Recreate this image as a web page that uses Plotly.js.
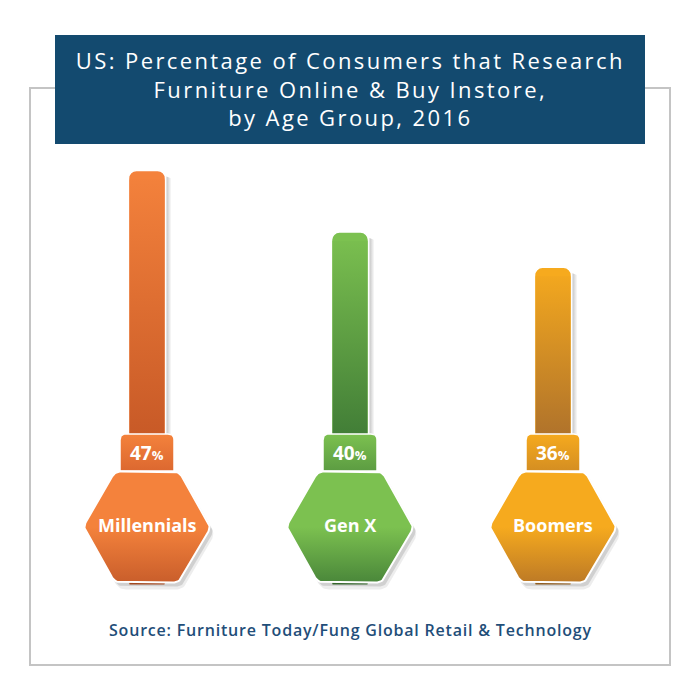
<!DOCTYPE html>
<html><head><meta charset="utf-8">
<script src="https://cdn.plot.ly/plotly-3.0.1.min.js"></script>
<style>html,body{margin:0;padding:0;background:#fff;}</style>
</head><body><div id="chart" style="width:700px;height:700px;"></div>
<script>
// ---- data ----
const categories = ['Millennials', 'Gen X', 'Boomers'];
const values = [47, 40, 36];
const valueLabels = ['47', '40', '36'];
const titleLines = ['US: Percentage of Consumers that Research', 'Furniture Online & Buy Instore,', 'by Age Group, 2016'];
const sourceText = 'Source: Furniture Today/Fung Global Retail & Technology';

// ---- styles ----
const topColors = ['#f4823c', '#7cc150', '#f6aa1e'];
const barBottom = ['#c85a27', '#427e37', '#b0732b'];
const hexBottom = ['#c95e2b', '#4a873a', '#bd7a26'];
const labelBottom = ['#dc6830', '#5c9c42', '#d48e22'];

// ---- geometry (axis mapping) ----
const W = 700, H = 700;
const X0 = 147, DX = 203;   // pixel of category 0, pixels per category
const Y0 = 584.5, DY = 8.81; // pixel of value 0, pixels per unit
const xr = [-X0 / DX, (W - X0) / DX];
const yr = [(Y0 - H) / DY, Y0 / DY];
const xd = px => (px - X0) / DX;
const yd = py => (Y0 - py) / DY;
const xp = x => X0 + x * DX;
const yp = y => Y0 - y * DY;

function roundPoly(pts, r) {
  const out = [];
  const n = pts.length;
  for (let k = 0; k < n; k++) {
    const P = pts[k], A = pts[(k - 1 + n) % n], B = pts[(k + 1) % n];
    const rr = Array.isArray(r) ? r[k] : r;
    if (rr <= 0) { out.push(P); continue; }
    const la = Math.hypot(A[0] - P[0], A[1] - P[1]);
    const lb = Math.hypot(B[0] - P[0], B[1] - P[1]);
    const p1 = [P[0] + (A[0] - P[0]) * rr / la, P[1] + (A[1] - P[1]) * rr / la];
    const p2 = [P[0] + (B[0] - P[0]) * rr / lb, P[1] + (B[1] - P[1]) * rr / lb];
    for (let t = 0; t <= 1.0001; t += 0.125) {
      const u = 1 - t;
      out.push([u * u * p1[0] + 2 * u * t * P[0] + t * t * p2[0], u * u * p1[1] + 2 * u * t * P[1] + t * t * p2[1]]);
    }
  }
  out.push(out[0]);
  return out;
}
function polyTrace(ptsPx, opts) {
  return Object.assign({
    type: 'scatter', mode: 'lines', fill: 'toself',
    x: ptsPx.map(p => xd(p[0])), y: ptsPx.map(p => yd(p[1])),
    hoverinfo: 'skip', showlegend: false
  }, opts);
}

const traces = [];
const annotations = [];
const barHalf = 18.5;
const labelTop = 434, labelBot = 471;
const hexR = 64, hexCy = 527, hexHalfH = 55.5;

categories.forEach((c, i) => {
  const cx = xp(i);
  const top = yp(values[i]);
  // bar shadow strip
  traces.push(polyTrace([[cx + barHalf + 1, top + 6], [cx + barHalf + 6, top + 8], [cx + barHalf + 6, labelTop], [cx + barHalf + 1, labelTop]], {
    line: {width: 0}, fillcolor: 'rgba(0,0,0,0.15)',
    fillgradient: {type: 'horizontal', colorscale: [[0, 'rgba(0,0,0,0.22)'], [1, 'rgba(0,0,0,0)']],
                   start: xd(cx + barHalf + 1), stop: xd(cx + barHalf + 6)}
  }));
});

// main bars
traces.push({
  type: 'bar', x: [0, 1, 2], y: values, width: 2 * barHalf / DX,
  marker: {color: topColors, line: {color: '#ffffff', width: 1.5}, cornerradius: 8},
  hoverinfo: 'skip', showlegend: false
});

categories.forEach((c, i) => {
  const cx = xp(i);
  const top = yp(values[i]);
  // gradient overlay on bar body
  traces.push(polyTrace([[cx - barHalf + 1, top + 9], [cx + barHalf - 1, top + 9], [cx + barHalf - 1, Y0], [cx - barHalf + 1, Y0]], {
    line: {width: 0}, fillcolor: topColors[i],
    fillgradient: {type: 'vertical', colorscale: [[0, barBottom[i]], [1, topColors[i]]], start: yd(labelTop), stop: values[i]}
  }));
  // label box
  const lb = roundPoly([[cx - 27, labelTop], [cx + 27, labelTop], [cx + 27, labelBot], [cx - 27, labelBot]], [6, 6, 0, 0]);
  traces.push(polyTrace(lb, {
    line: {width: 1.5, color: '#ffffff'}, fillcolor: topColors[i],
    fillgradient: {type: 'vertical', colorscale: [[0, labelBottom[i]], [1, topColors[i]]], start: yd(labelBot), stop: yd(labelTop)}
  }));
  // hexagon shadow + hexagon
  const hex = (dx, dy) => [[cx - hexR / 2 + dx, hexCy - hexHalfH + dy], [cx + hexR / 2 + dx, hexCy - hexHalfH + dy], [cx + hexR + dx, hexCy + dy],
                           [cx + hexR / 2 + dx, hexCy + hexHalfH + dy], [cx - hexR / 2 + dx, hexCy + hexHalfH + dy], [cx - hexR + dx, hexCy + dy]];
  traces.push(polyTrace(roundPoly(hex(4, 7), 7), {line: {width: 0}, fillcolor: 'rgba(0,0,0,0.07)'}));
  traces.push(polyTrace(roundPoly(hex(3, 4), 6), {line: {width: 0}, fillcolor: 'rgba(0,0,0,0.12)'}));
  traces.push(polyTrace(roundPoly(hex(0, 0), 6), {
    line: {width: 2, color: '#ffffff'}, fillcolor: topColors[i],
    fillgradient: {type: 'vertical', colorscale: [[0, hexBottom[i]], [0.5, topColors[i]], [1, topColors[i]]],
                   start: yd(hexCy + hexHalfH), stop: yd(hexCy - hexHalfH)}
  }));
  annotations.push({
    x: i, y: yd(453), xref: 'x', yref: 'y', showarrow: false,
    text: '<b>' + valueLabels[i] + '<span style="font-size:13px">%</span></b>',
    font: {family: 'Open Sans', size: 19, color: '#ffffff'}
  });
  annotations.push({
    x: i, y: yd(525), xref: 'x', yref: 'y', showarrow: false,
    text: '<b>' + c + '</b>',
    font: {family: 'Open Sans', size: 18, color: '#ffffff'}
  });
});

const titleIdx = annotations.length;
annotations.push({
  x: 0.5, y: 1 - 89 / H, xref: 'paper', yref: 'paper', xanchor: 'center', yanchor: 'middle', showarrow: false,
  text: titleLines.join('<br>'), font: {family: 'Open Sans', size: 22, color: '#ffffff'}
});
const sourceIdx = annotations.length;
annotations.push({
  x: 0.5, y: 1 - 630 / H, xref: 'paper', yref: 'paper', xanchor: 'center', yanchor: 'middle', showarrow: false,
  text: sourceText, font: {family: 'Open Sans', size: 16, weight: 600, color: '#1f4e79'}
});

const layout = {
  width: W, height: H, margin: {l: 0, r: 0, t: 0, b: 0, pad: 0},
  paper_bgcolor: '#ffffff', plot_bgcolor: '#ffffff', showlegend: false,
  xaxis: {range: xr, visible: false, fixedrange: true},
  yaxis: {range: yr, visible: false, fixedrange: true},
  shapes: [
    {type: 'rect', xref: 'paper', yref: 'paper', x0: 30 / W, x1: 670 / W, y0: 1 - 665 / H, y1: 1 - 88 / H,
     line: {color: '#c4c4c4', width: 2}, fillcolor: 'rgba(0,0,0,0)', layer: 'below'},
    {type: 'rect', xref: 'paper', yref: 'paper', x0: 55 / W, x1: 645 / W, y0: 1 - 144 / H, y1: 1 - 35 / H,
     line: {width: 0}, fillcolor: '#134a6f', layer: 'above'}
  ],
  annotations: annotations
};

Plotly.newPlot('chart', traces, layout, {staticPlot: true, displayModeBar: false}).then(gd => {
  const setSpacing = (idx, sp) => {
    document.querySelectorAll('g.annotation[data-index="' + idx + '"] text').forEach(t => { t.style.letterSpacing = sp; });
  };
  setSpacing(titleIdx, '2.4px');
  setSpacing(sourceIdx, '0.8px');
});
</script>
</body></html>
